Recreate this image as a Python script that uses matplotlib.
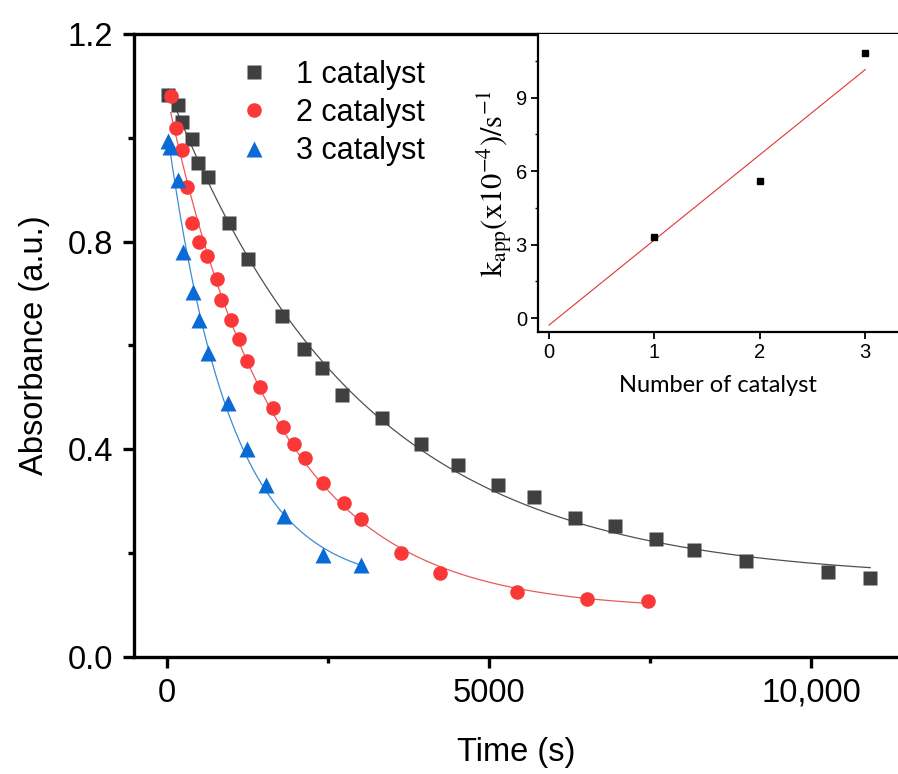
import numpy as np
import matplotlib
matplotlib.use("Agg")
import matplotlib.pyplot as plt
from matplotlib.ticker import FixedLocator, FixedFormatter

plt.rcParams['font.family'] = ['Liberation Sans', 'DejaVu Sans']
plt.rcParams['mathtext.fontset'] = 'stix'

# ---------------- data ----------------
t1 = [20, 166, 228, 384, 486, 633, 957, 1252, 1790, 2132, 2402, 2713, 3343, 3949,
      4523, 5134, 5696, 6329, 6950, 7585, 8183, 8994, 10267, 10919]
a1 = [1.083, 1.063, 1.031, 0.997, 0.951, 0.925, 0.835, 0.766, 0.657, 0.593, 0.556,
      0.505, 0.460, 0.410, 0.370, 0.331, 0.308, 0.268, 0.253, 0.227, 0.206, 0.184,
      0.164, 0.153]

t2 = [57, 140, 228, 306, 384, 502, 616, 776, 839, 989, 1118, 1247, 1444, 1641, 1806,
      1972, 2143, 2422, 2753, 3017, 3634, 4244, 5429, 6519, 7466]
a2 = [1.080, 1.019, 0.976, 0.905, 0.836, 0.800, 0.772, 0.728, 0.687, 0.649, 0.613,
      0.571, 0.521, 0.480, 0.443, 0.410, 0.383, 0.335, 0.297, 0.266, 0.200, 0.161,
      0.126, 0.112, 0.107]

t3 = [20, 47, 175, 253, 408, 497, 641, 952, 1238, 1533, 1817, 2418, 3012]
a3 = [0.994, 0.983, 0.919, 0.781, 0.704, 0.649, 0.586, 0.489, 0.400, 0.331, 0.272,
      0.197, 0.177]

labels = ['1 catalyst', '2 catalyst', '3 catalyst']

n_cat = [1, 2, 3]
k_app = [3.29, 5.60, 10.84]
k_fit_slope = 3.48
k_fit_intercept = -0.29

x_ticks = [0, 5000, 10000]
x_ticklabels = ['0', '5000', '10,000']
y_ticks = [0.0, 0.4, 0.8, 1.2]
y_ticklabels = ['0.0', '0.4', '0.8', '1.2']


def fit_exp(t, y):
    t = np.asarray(t, float)
    y = np.asarray(y, float)
    best = None
    for tau in np.linspace(100, 20000, 4000):
        X = np.column_stack([np.exp(-t / tau), np.ones_like(t)])
        coef, *_ = np.linalg.lstsq(X, y, rcond=None)
        r = np.sum((X @ coef - y) ** 2)
        if best is None or r < best[0]:
            best = (r, tau, coef)
    _, tau, coef = best
    tt = np.linspace(t[0], t[-1], 400)
    return tt, coef[0] * np.exp(-tt / tau) + coef[1]


# ---------------- figure ----------------
fig = plt.figure(figsize=(8.98, 7.74), dpi=100)
ax = fig.add_axes([134 / 898, 1 - 657 / 774, 1 - 134 / 898, (657 - 34) / 774])

series = [
    (t1, a1, 's', '#404040', '#505050', 10),
    (t2, a2, 'o', '#fb3838', '#e85a5a', 10.5),
    (t3, a3, '^', '#0a6ad6', '#3d8bd4', 11),
]
for (t, a, m, c, lc, ms), lab in zip(series, labels):
    tt, yy = fit_exp(t, a)
    ax.plot(tt, yy, '-', color=lc, lw=0.9, zorder=2)
    ax.plot(t, a, m, color=c, ms=ms, mec='none', label=lab, zorder=3, linestyle='none')

ax.set_xlim(-512, 11350)
ax.set_ylim(0, 1.2)
ax.xaxis.set_major_locator(FixedLocator(x_ticks))
ax.xaxis.set_major_formatter(FixedFormatter(x_ticklabels))
ax.xaxis.set_minor_locator(FixedLocator([2500, 7500]))
ax.yaxis.set_major_locator(FixedLocator(y_ticks))
ax.yaxis.set_major_formatter(FixedFormatter(y_ticklabels))
ax.yaxis.set_minor_locator(FixedLocator([0.2, 0.6, 1.0]))

for s in ['left', 'bottom', 'top']:
    ax.spines[s].set_linewidth(2.4)
ax.spines['right'].set_visible(False)
ax.tick_params(which='major', direction='out', length=8, width=2.4, labelsize=23.5, pad=7)
ax.tick_params(which='minor', direction='out', length=4, width=2.4)
ax.tick_params(top=False, right=False, which='both')

ax.set_xlabel('Time (s)', fontsize=23.5, labelpad=20)
ax.set_ylabel('Absorbance (a.u.)', fontsize=23.5, labelpad=13)

leg = ax.legend(loc='upper left', bbox_to_anchor=(0.1165, 0.978), frameon=False,
                fontsize=22, handletextpad=0.8, labelspacing=0.27, handlelength=1.2,
                borderaxespad=0)

# ---------------- inset ----------------
ins = fig.add_axes([538 / 898, 1 - 332 / 774, 1 - 538 / 898, (332 - 34) / 774])
ins.plot(n_cat, k_app, 's', color='black', ms=5, linestyle='none', zorder=3)
xf = np.array([0, 3])
ins.plot(xf, k_fit_slope * xf + k_fit_intercept, '-', color='#e03535', lw=0.8, zorder=2)
ins.set_xlim(-0.104, 3.31)
ins.set_ylim(-0.57, 11.6)
ins.xaxis.set_major_locator(FixedLocator([0, 1, 2, 3]))
ins.yaxis.set_major_locator(FixedLocator([0, 3, 6, 9]))
ins.yaxis.set_minor_locator(FixedLocator([1.5, 4.5, 7.5, 10.5]))
ins.spines['top'].set_visible(False)
ins.spines['right'].set_visible(False)
ins.spines['left'].set_linewidth(1.6)
ins.spines['bottom'].set_linewidth(1.6)
ins.tick_params(which='major', direction='out', length=5, width=1.3, labelsize=14.5, pad=3)
ins.tick_params(which='minor', direction='out', length=2.5, width=1.0)
ins.set_xlabel('Number of catalyst', fontsize=17, family=['Lato', 'DejaVu Sans'], labelpad=9)
ins.set_ylabel(r'$\mathrm{k_{app}(x10^{-4})/s^{-1}}$', fontsize=22, labelpad=1)

fig.savefig('out.png', dpi=100)
